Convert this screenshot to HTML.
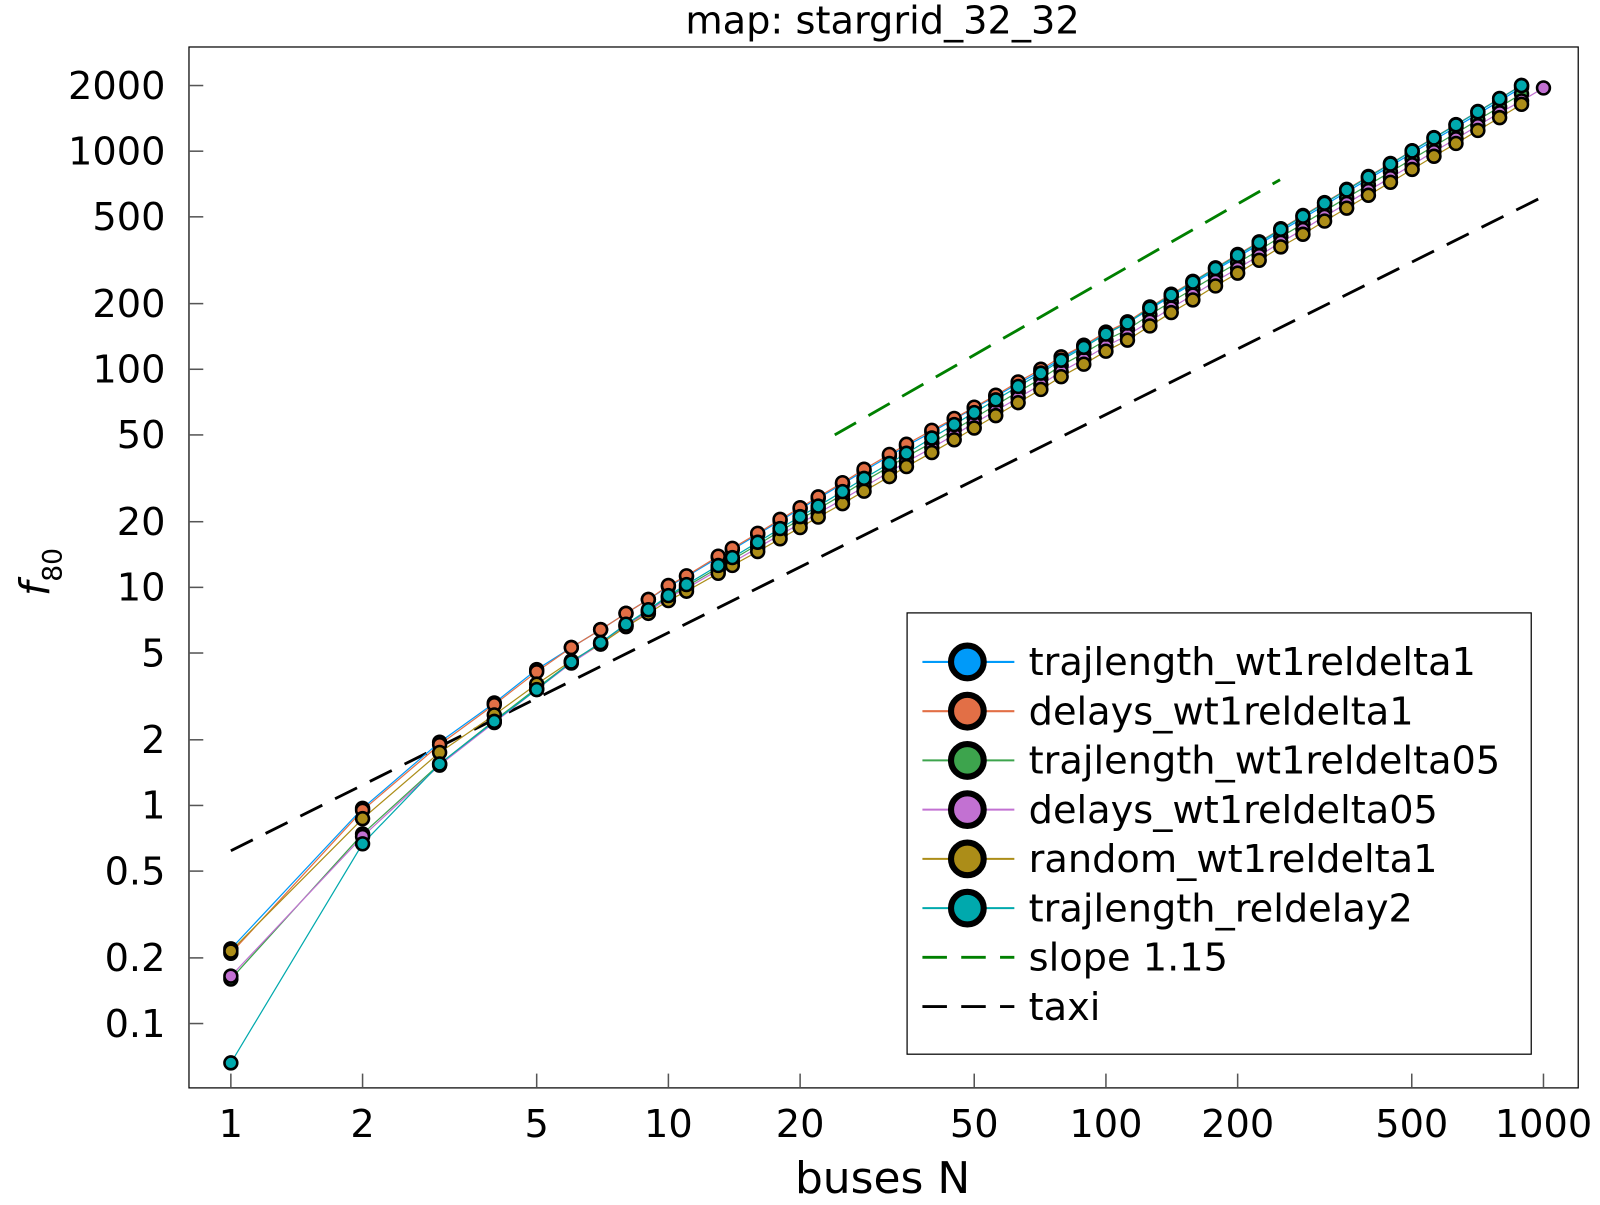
<!DOCTYPE html>
<html><head><meta charset="utf-8"><style>
body{margin:0;background:#fff}
svg text{font-family:"DejaVu Sans","Liberation Sans",sans-serif}
</style></head><body>
<svg id="chart" width="1600" height="1200" xmlns="http://www.w3.org/2000/svg">
<rect width="1600" height="1200" fill="#fff"/>
<g transform="scale(1.0215)">
<text x="864" y="33" font-size="37.5" text-anchor="middle">map: stargrid_32_32</text>
<rect x="185" y="46" width="1360" height="1019" fill="none" stroke="#000" stroke-width="1.2"/>
<g id="axes"></g>
<g id="series"></g>
<text x="864" y="1168" font-size="43" text-anchor="middle">buses N</text>
<text transform="translate(48,560) rotate(-90)" font-size="40" text-anchor="middle" font-family="'DejaVu Serif','Liberation Serif',serif" font-style="italic">f<tspan font-size="26" dy="12" font-style="normal">80</tspan></text>
<g id="legend"></g>
</g>
</svg>
<script>
const xTicks=[1,2,5,10,20,50,100,200,500,1000];
const yTicks=[0.1,0.2,0.5,1,2,5,10,20,50,100,200,500,1000,2000];
const Ns=[1,2,3,4,5,6,7,8,9,10,11,13,14,16,18,20,22,25,28,32,35,40,45,50,56,63,71,79,89,100,112,126,141,158,178,200,224,251,282,316,355,398,447,501,562,631,708,794,891];
const blueV=[0.22,0.97,1.95,2.95,4.2,5.3,6.4,7.6,8.8,10.1,11.2,13.7,14.9,17.5,20.2,22.9,25.6,29.8,34.2,40.0,44.5,51.5,59,66.5,75,86,98,112,128,147,163,189,216,247,285,327,374,430,493,565,650,745,855,980,1125,1290,1480,1700,1960];
const orangeV=[0.21,0.95,1.9,2.9,4.1,5.3,6.4,7.6,8.8,10.2,11.3,13.9,15.1,17.7,20.5,23.2,26,30.2,34.8,40.7,45.3,52.5,59.5,67,76,87.5,100,114,129,148,165,193,221,253,292,336,384,441,507,581,668,766,878,1005,1155,1325,1520,1745,2005];
const greenV=[0.16,0.74,1.55,2.45,3.45,4.55,5.55,6.7,7.8,9.05,10.1,12.3,13.4,15.7,18.1,20.5,22.9,26.6,30.6,35.8,39.8,46,52.8,59.8,68.5,78.8,90.5,104,118.5,136,152,178,204,233,269,308,352,405,464,532,612,700,803,920,1055,1210,1390,1595,1830];
const pinkV=[0.165,0.72,1.53,2.4,3.4,4.5,5.5,6.65,7.75,8.95,9.9,12.0,13.0,15.2,17.4,19.6,21.9,25.3,28.9,33.8,37.6,43.6,50,56.6,64.5,74,85,97.5,111,127.5,143,166,191,219,253,290,332,382,437,502,576,660,756,866,995,1140,1310,1500,1700,1950];
const goldV=[0.215,0.87,1.75,2.6,3.6,4.6,5.5,6.6,7.6,8.7,9.6,11.6,12.6,14.6,16.7,18.8,21,24.2,27.6,32.2,35.8,41.5,47.5,53.8,61.3,70.3,80.8,92.5,105.5,121,136,158,182,208,241,276,316,364,416,478,548,628,720,825,948,1085,1245,1425,1640];
const tealV=[0.066,0.667,1.55,2.43,3.4,4.55,5.58,6.78,7.9,9.17,10.3,12.6,13.7,16.1,18.6,21.1,23.6,27.5,31.6,37.0,41.2,48.4,55.8,63.3,72.4,83.4,96,110,126,145,163,191,219,251,290,333,381,438,503,577,664,761,873,1002,1150,1320,1515,1740,2000];
const taxiN=[1,1000];
const taxiV=[0.62,620];
const slopeN=[24,250];
const slopeV=[50,740];
const seriesNames=["trajlength_wt1reldelta1","delays_wt1reldelta1","trajlength_wt1reldelta05","delays_wt1reldelta05","random_wt1reldelta1","trajlength_reldelay2"];
const seriesColors=["#009af9","#e26f46","#3da44d","#c271d2","#ac8d18","#00a9ad"];
const seriesVals=[blueV,orangeV,greenV,pinkV,goldV,tealV];

const X0=226,XD=428.33,Y0=1002,YD=213.5;
function xs(n){return X0+Math.log10(n)*XD;}
function ys(v){return Y0-(Math.log10(v)+1)*YD;}
const NS="http://www.w3.org/2000/svg";
function mk(tag,attrs,parent){const e=document.createElementNS(NS,tag);for(const k in attrs)e.setAttribute(k,attrs[k]);parent.appendChild(e);return e;}
const axes=document.getElementById('axes');
xTicks.forEach(t=>{
  const x=xs(t);
  const l=mk('line',{x1:x,x2:x,y1:1065,y2:1051,stroke:'#555','stroke-width':1.5},axes);
  
  
  const tx=mk('text',{x:x,y:1113,'font-size':37.5,'text-anchor':'middle'},axes);
  tx.textContent=t;
  
  
});
yTicks.forEach(t=>{
  const y=ys(t);
  const l=mk('line',{x1:185,x2:199,y1:y,y2:y,stroke:'#555','stroke-width':1.5},axes);
  
  
  const tx=mk('text',{x:162,y:y+13,'font-size':37.5,'text-anchor':'end'},axes);
  tx.textContent=t;
  
  
});
const sg=document.getElementById('series');
function dline(nArr,vArr,color,name){
  const p=mk('polyline',{points:nArr.map((n,i)=>xs(n)+','+ys(vArr[i])).join(' '),fill:'none',stroke:color,'stroke-width':2.8,'stroke-dasharray':'24 14'},sg);
  
  
}
dline(slopeN,slopeV,'#008000','slope-line');
dline(taxiN,taxiV,'#000','taxi-line');
seriesVals.forEach((vals,si)=>{
  const pts=vals.map((v,i)=>xs(i<Ns.length?Ns[i]:1000)+','+ys(v)).join(' ');
  const p=mk('polyline',{points:pts,fill:'none',stroke:seriesColors[si],'stroke-width':1.2},sg);
  
  
});
seriesVals.forEach((vals,si)=>{
  vals.forEach((v,i)=>{
    const n=i<Ns.length?Ns[i]:1000;
    const c=mk('circle',{cx:xs(n),cy:ys(v),r:6.3,fill:seriesColors[si],stroke:'#000','stroke-width':2.5},sg);
    
    
  });
});
const lg=document.getElementById('legend');
const box=mk('rect',{x:888,y:600,width:611,height:432,fill:'#fff',stroke:'#000','stroke-width':1.2},lg);


const allNames=seriesNames.concat(['slope 1.15','taxi']);
allNames.forEach((nm,i)=>{
  const y=648+i*48.2;
  if(i<6){
    const l=mk('line',{x1:903,x2:993,y1:y,y2:y,stroke:seriesColors[i],'stroke-width':2},lg);
    
    
    const c=mk('circle',{cx:947,cy:y,r:16,fill:seriesColors[i],stroke:'#000','stroke-width':6},lg);
    
    
  } else {
    const l=mk('line',{x1:903,x2:993,y1:y,y2:y,stroke:i===6?'#008000':'#000','stroke-width':2.8,'stroke-dasharray':'24 14'},lg);
    
    
  }
  const t=mk('text',{x:1007,y:y+13,'font-size':37.5},lg);
  t.textContent=nm;
  
  
});
</script>
</body></html>
